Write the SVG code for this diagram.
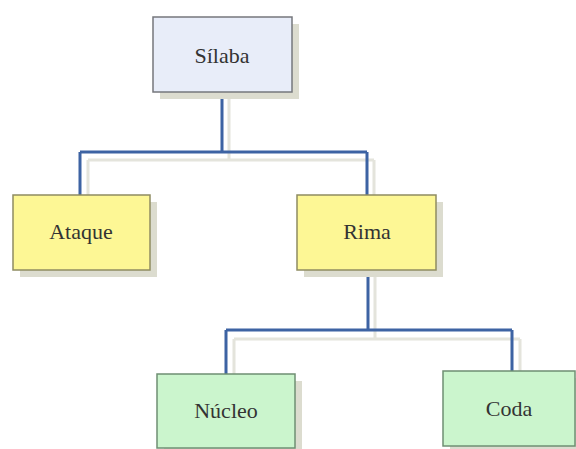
<svg xmlns="http://www.w3.org/2000/svg" width="576" height="449" viewBox="0 0 576 449">
<style>
.sh{fill:#dcdccf}
.lsh{fill:none;stroke:#e4e4dc;stroke-width:3}
.ln{fill:none;stroke:#3d63a3;stroke-width:3}
.bx{stroke-width:1.5}
.blue{fill:#e8edf9;stroke:#75777c}
.yel{fill:#fdf795;stroke:#8f8c62}
.grn{fill:#cbf5cd;stroke:#6f8f73}
text{font-family:"Liberation Serif","DejaVu Serif",serif;font-size:22px;fill:#333;text-anchor:middle}
</style>
<rect width="576" height="449" fill="#fff"/>
<g id="connectors">
<path class="lsh" d="M229,99 V160 M88,160 H374 M88,160 V195 M374,160 V195"/>
<path class="lsh" d="M375,277 V339 M234,339 H520 M234,339 V374 M520,339 V371"/>
<path class="ln" d="M222,92 V152 M80,152 H367 M80,152 V195 M367,152 V195"/>
<path class="ln" d="M368,270 V330 M226,330 H512 M226,330 V374 M512,330 V371"/>
</g>
<g id="silaba">
<rect class="sh" x="160" y="24" width="139" height="75"/>
<rect class="bx blue" x="153" y="17" width="139" height="75"/>
<text x="222" y="63">Sílaba</text>
</g>
<g id="ataque">
<rect class="sh" x="20" y="202" width="137" height="75"/>
<rect class="bx yel" x="13" y="195" width="137" height="75"/>
<text x="81" y="239">Ataque</text>
</g>
<g id="rima">
<rect class="sh" x="304" y="202" width="139" height="75"/>
<rect class="bx yel" x="297" y="195" width="139" height="75"/>
<text x="367" y="239">Rima</text>
</g>
<g id="nucleo">
<rect class="sh" x="164" y="381" width="138" height="75"/>
<rect class="bx grn" x="157" y="374" width="138" height="74"/>
<text x="226" y="418">Núcleo</text>
</g>
<g id="coda">
<rect class="sh" x="450" y="378" width="132" height="75"/>
<rect class="bx grn" x="443" y="371" width="132" height="75"/>
<text x="509" y="416">Coda</text>
</g>
</svg>
